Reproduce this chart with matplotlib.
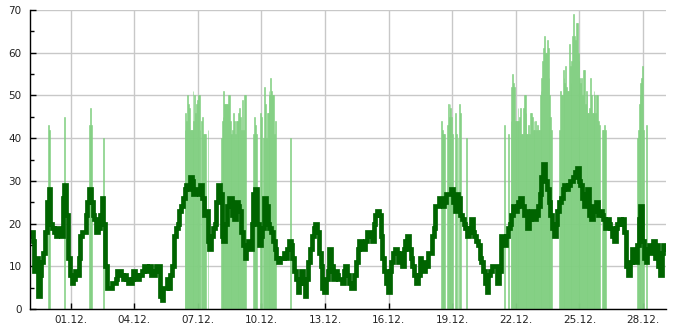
import numpy as np
import pandas as pd
import matplotlib
matplotlib.use("Agg")
import matplotlib.pyplot as plt
import matplotlib.dates as mdates
from matplotlib.ticker import MultipleLocator

# first sample of both series, the line is sampled every 2 hours
start = pd.Timestamp("2015-11-29 02:00")
line_step_h = 2

# dark line, one row per day (approx.)
line_vals = [
    17, 18, 16, 9, 12, 3, 8, 11, 13, 18, 25, 28,
    20, 19, 18, 17, 19, 18, 17, 26, 29, 22, 12, 8,
    6, 7, 9, 8, 12, 17, 18, 18, 22, 25, 28, 25,
    22, 21, 18, 19, 22, 26, 20, 10, 5, 5, 5, 6,
    6, 7, 9, 9, 8, 7, 8, 7, 6, 6, 7, 9,
    8, 7, 8, 8, 9, 10, 10, 9, 10, 8, 8, 9,
    10, 10, 3, 2, 5, 5, 7, 5, 8, 10, 17, 19,
    20, 23, 24, 26, 28, 29, 28, 31, 30, 27, 28, 28,
    27, 29, 26, 22, 23, 16, 14, 17, 19, 20, 25, 29,
    27, 17, 16, 20, 24, 26, 26, 22, 21, 25, 24,
    23, 18, 15, 12, 15, 16, 14, 20, 27, 28, 20, 15,
    17, 19, 26, 24, 20, 19, 18, 16, 14, 12, 11, 12,
    12, 13, 12, 14, 16, 15, 12, 9, 7, 4, 6, 9,
    6, 3, 7, 11, 14, 17, 19, 20, 18, 13, 10, 5,
    4, 7, 9, 14, 10, 7,
    9, 8, 7, 7, 6, 9, 10, 8, 6, 5, 5, 8,
    11, 14, 16, 15, 14, 16, 18, 18, 17, 16, 20, 22,
    23, 22, 17, 12, 9, 6, 4, 9, 11, 13, 14, 13,
    11, 13, 10, 14, 16, 17, 14, 12, 10, 8, 6, 8,
    12, 10, 9, 11, 10, 13, 13, 17, 19, 24, 24, 26,
    26, 24, 25, 27, 27, 27, 28, 25, 23, 27, 26, 22,
    21, 20, 19, 17, 19, 21, 18, 17, 16, 15, 12, 11,
    9, 6, 4, 8, 9, 10, 10, 10, 6, 9, 17, 17,
    15, 17, 19, 20, 22, 24, 23, 24, 25, 26, 24, 22,
    23, 19, 21, 23, 23, 21, 22, 24, 27, 31, 34, 30,
    28, 25, 22, 19, 17, 20, 23, 25, 26, 28, 29, 28,
    29, 30, 30, 31, 32, 33, 30, 29, 26, 24, 27, 28,
    22, 21, 24, 23, 25, 22, 23, 22, 21, 19, 21, 20,
    19, 17, 16, 19, 20, 21, 20, 21, 18, 10, 8, 11,
    14, 13, 11, 15, 21, 24, 16, 12, 11, 14, 15, 13,
    16, 12, 15, 10, 8, 13, 15, 14,
]

# light bars: hour offset from start and height
bar_hours = [
    20, 21, 22, 39, 67, 68, 69, 83,
    175, 176, 177, 178, 179, 180, 181, 182, 183, 184, 185, 186, 187, 188,
    189, 190, 191, 192, 194, 195, 196, 197, 198, 201,
    216, 217, 218, 219, 220, 221, 222, 223, 224, 225, 226, 227, 228, 229,
    230, 231, 232, 233, 234, 235, 236, 237, 238, 239, 240, 241, 242, 243,
    253, 254, 255, 256, 260, 261, 262, 264, 265, 266, 267, 268, 269, 270,
    271, 272, 273, 274, 275, 276, 277, 294,
    465, 466, 467, 468, 469, 472, 473, 474, 475, 476, 477, 478, 481, 482,
    484, 486, 487, 494,
    537, 541, 544, 545, 546, 547, 548, 549, 550, 551, 552, 553, 554, 555,
    556, 557, 558, 559, 560, 561, 562, 563, 564, 565, 566, 567, 568, 569,
    570, 571, 572, 573, 574, 575, 576, 577, 578, 579, 580, 581, 582, 583,
    584, 585, 586, 587, 588, 589, 590,
    599, 600, 601, 602, 603, 604, 605, 606, 607, 608, 609, 610, 611, 612,
    613, 614, 615, 616, 617, 618, 619, 620, 621, 622, 623, 624, 625, 626,
    627, 628, 629, 630, 631, 632, 633, 634, 635, 636, 637, 638, 639, 640,
    641, 642, 643, 644, 648, 649, 650, 651,
    687, 688, 689, 690, 691, 692, 693, 694, 697,
]
bar_heights = [
    43, 42, 42, 45, 43, 47, 43, 40,
    42, 46, 44, 50, 48, 47, 42, 42, 42, 51, 44, 50, 46, 48,
    49, 50, 50, 42, 44, 45, 41, 41, 41, 42,
    40, 44, 45, 51, 48, 48, 48, 48, 50, 50, 44, 41, 41, 42,
    46, 44, 41, 44, 44, 44, 46, 47, 45, 42, 49, 42, 50, 50,
    41, 45, 43, 41, 46, 41, 45, 40, 52, 48, 40, 46, 46, 51,
    50, 54, 51, 50, 50, 41, 44, 40,
    44, 42, 41, 41, 41, 43, 48, 45, 48, 47, 45, 41, 46, 41,
    40, 48, 46, 40,
    43, 41, 44, 52, 55, 53, 52, 44, 44, 44, 47, 44, 45, 47,
    41, 41, 47, 50, 50, 46, 41, 41, 43, 41, 46, 46, 45, 42,
    44, 42, 44, 42, 43, 42, 42, 50, 51, 54, 58, 61, 64, 60,
    60, 63, 61, 54, 50, 45, 42,
    42, 51, 50, 50, 56, 54, 53, 57, 52, 51, 51, 62, 57, 53,
    58, 64, 69, 64, 63, 67, 67, 60, 58, 54, 53, 54, 50, 56,
    56, 48, 51, 50, 46, 46, 47, 54, 50, 46, 46, 51, 50, 46,
    50, 50, 44, 43, 42, 42, 43, 42,
    40, 42, 48, 50, 53, 54, 57, 42, 43,
]

line_t = start + pd.to_timedelta(np.arange(len(line_vals)) * line_step_h, unit="h")
bar_t = start + pd.to_timedelta(np.array(bar_hours), unit="h")
end = start + pd.Timedelta(hours=720)

plt.rcParams["font.family"] = "DejaVu Sans"
plt.rcParams["font.size"] = 7.5

fig = plt.figure(figsize=(6.85, 3.3), dpi=100)
ax = fig.add_axes([30 / 685, 21 / 330, 636 / 685, 299 / 330])

# a thin edge in the same colour closes the hairline gaps between bars
ax.bar(mdates.date2num(bar_t), bar_heights, width=1 / 24, align="edge",
       color="#80cf80", edgecolor="#80cf80", linewidth=0.4, zorder=2)
ax.plot(mdates.date2num(line_t), line_vals, color="#006400", lw=3.4,
        drawstyle="steps-mid", solid_joinstyle="miter", zorder=3)

ax.set_xlim(mdates.date2num(start), mdates.date2num(end))
ax.set_ylim(0, 70)

ax.xaxis.set_major_locator(mdates.DayLocator(interval=3))
ax.xaxis.set_major_formatter(mdates.DateFormatter("%d.%m."))
ax.yaxis.set_major_locator(MultipleLocator(10))
ax.yaxis.set_minor_locator(MultipleLocator(5))

ax.grid(True, which="major", color="#c8c8c8", lw=1, zorder=0)
ax.set_axisbelow(True)
for s in ["top", "right"]:
    ax.spines[s].set_visible(False)
for s in ["left", "bottom"]:
    ax.spines[s].set_linewidth(1)
    ax.spines[s].set_zorder(4)

ax.tick_params(axis="both", which="major", direction="in", length=4, width=1,
               colors="black", labelcolor="#222222")
ax.tick_params(axis="y", which="minor", direction="in", length=3, width=1)
ax.tick_params(axis="y", pad=6)
ax.tick_params(axis="x", pad=4)

fig.savefig("out.png", dpi=100)
